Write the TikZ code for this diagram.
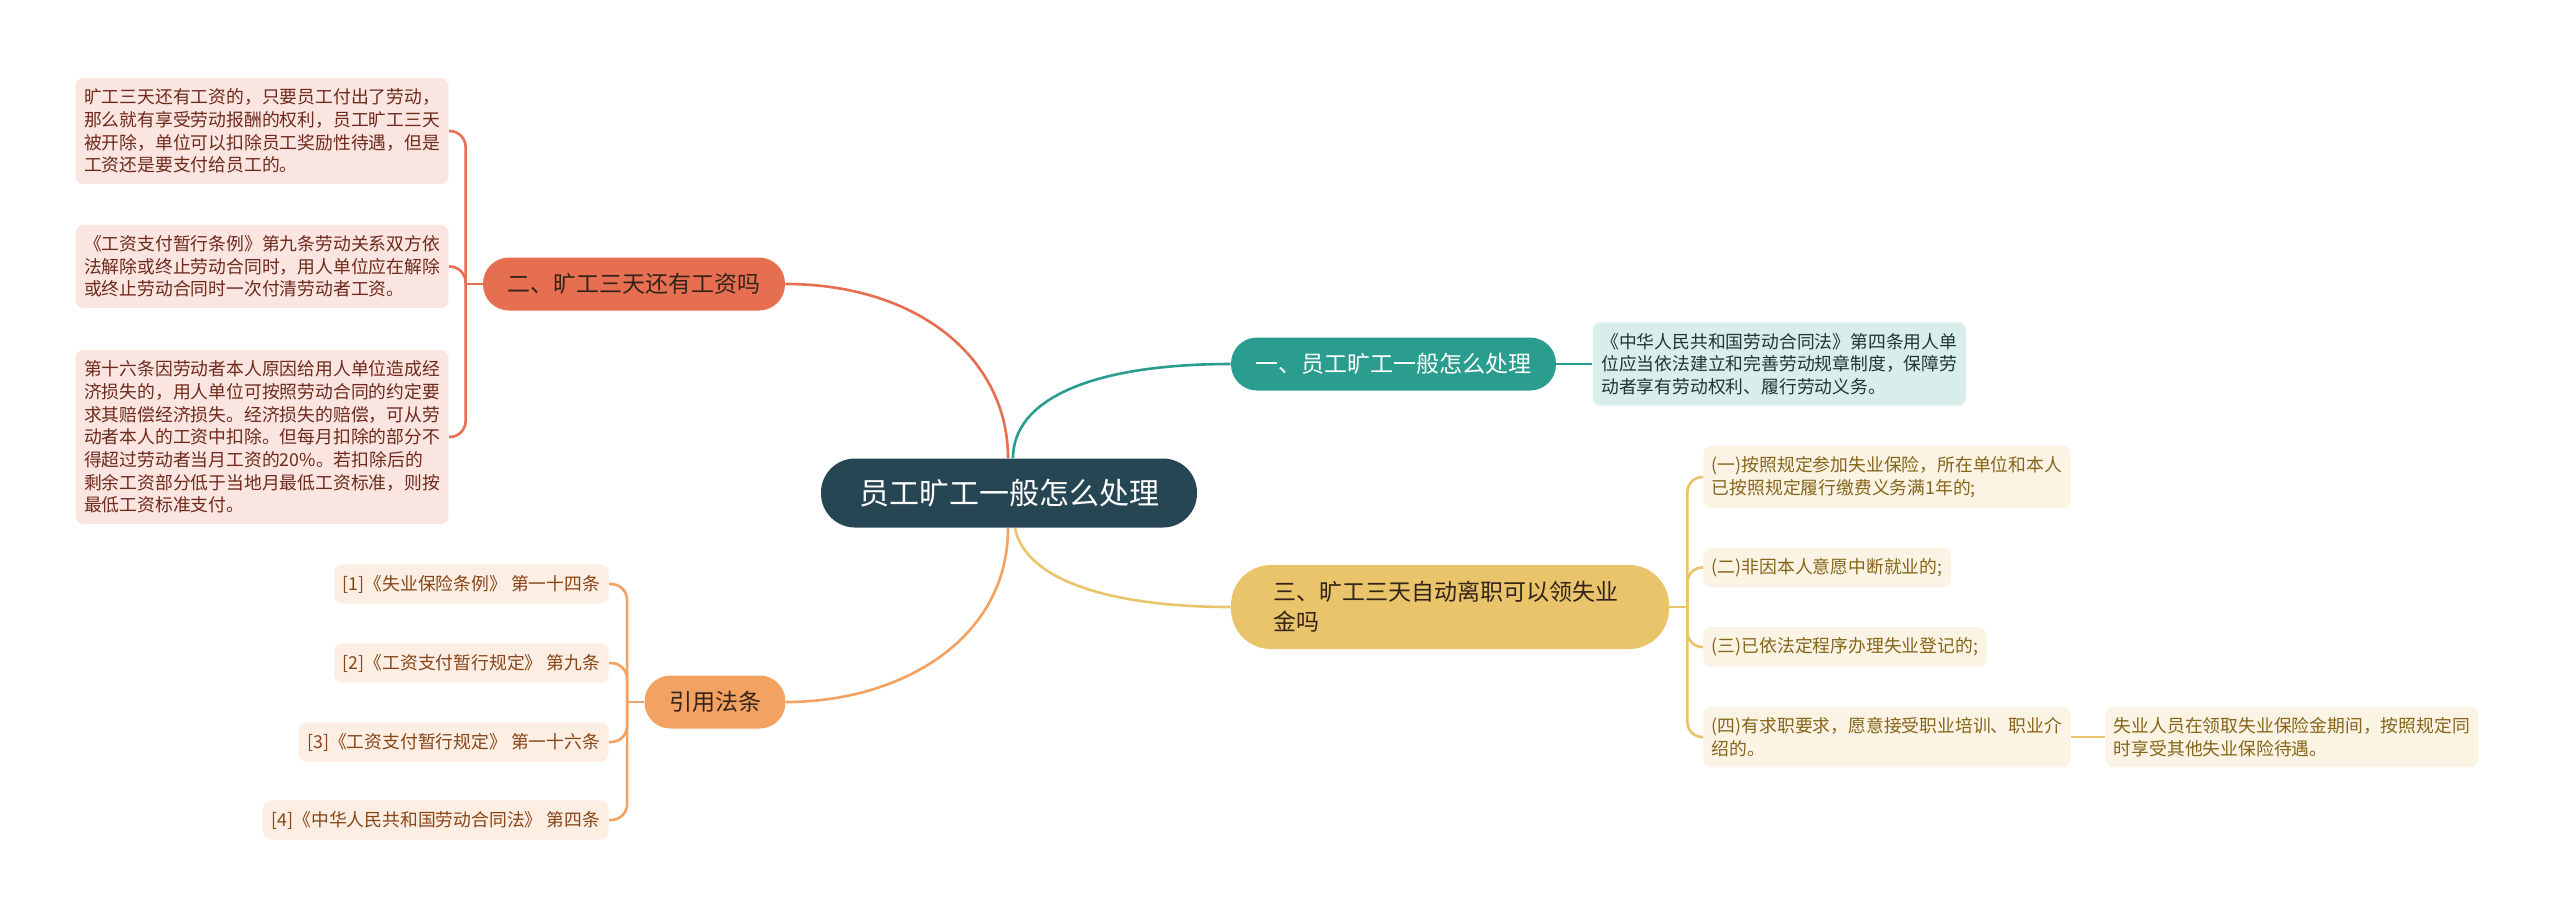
\documentclass[tikz,border=0pt]{standalone}
\usepackage{fontspec}
\setmainfont{Noto Sans CJK SC}
\usetikzlibrary{positioning, calc}
\definecolor{mapRoot}{HTML}{264653}
\definecolor{mapTeal}{HTML}{2A9D8F}
\definecolor{mapRed}{HTML}{E76F51}
\definecolor{mapGold}{HTML}{E9C46A}
\definecolor{mapOrange}{HTML}{F4A261}
\definecolor{textDark}{HTML}{33231A}
\definecolor{textRed}{HTML}{6E2A1C}
\definecolor{textTeal}{HTML}{233532}
\definecolor{textGold}{HTML}{86651A}
\definecolor{textOrange}{HTML}{874518}

\begin{document}
\begin{tikzpicture}[x=0.5pt, y=-0.5pt,
    root/.style={rectangle, rounded corners=17pt, fill=mapRoot, text=white,
                 font=\fontsize{15pt}{18pt}\selectfont, minimum height=34.5pt,
                 inner xsep=19pt},
    branch/.style 2 args={rectangle, rounded corners=13pt, fill=#1, text=#2,
                 font=\fontsize{11.5pt}{15pt}\selectfont, minimum height=26.5pt,
                 inner xsep=12.25pt},
    leaf/.style 2 args={rectangle, rounded corners=4pt, fill=#1!18, text=#2,
                 font=\fontsize{8.9pt}{11.35pt}\selectfont, align=left,
                 inner xsep=4.25pt, inner ysep=5.3pt, minimum height=19.5pt},
    lnk/.style={line width=1.3pt, draw=#1}
  ]
    \fill[white] (0,0) rectangle (2560,918);
    \useasboundingbox (0,0) rectangle (2560,918);

    % main topic and branches
    \node[root] (root) at (1009,493) {员工旷工一般怎么处理};
    \node[branch={mapTeal}{white}] (b1) at (1393.5,364) {一、员工旷工一般怎么处理};
    \node[branch={mapRed}{textDark}] (b2) at (634,284) {二、旷工三天还有工资吗};
    \node[branch={mapGold}{textDark}, text width=177pt, inner xsep=21pt,
          minimum height=42pt, rounded corners=20pt, align=left] (b3) at (1450,607)
          {三、旷工三天自动离职可以领失业\\金吗};
    \node[branch={mapOrange}{textDark}] (b4) at (715,702) {引用法条};

    % branch 1
    \node[leaf={mapTeal}{textTeal}, right=18pt of b1] (l1) {《中华人民共和国劳动合同法》第四条用人单\\位应当依法建立和完善劳动规章制度，保障劳\\动者享有劳动权利、履行劳动义务。};

    % branch 2
    \node[leaf={mapRed}{textRed}, anchor=east] (l21) at (449,131) {旷工三天还有工资的，只要员工付出了劳动，\\那么就有享受劳动报酬的权利，员工旷工三天\\被开除，单位可以扣除员工奖励性待遇，但是\\工资还是要支付给员工的。};
    \node[leaf={mapRed}{textRed}, anchor=east] (l22) at (449,266.5) {《工资支付暂行条例》第九条劳动关系双方依\\法解除或终止劳动合同时，用人单位应在解除\\或终止劳动合同时一次付清劳动者工资。};
    \node[leaf={mapRed}{textRed}, anchor=east] (l23) at (449,437) {第十六条因劳动者本人原因给用人单位造成经\\济损失的，用人单位可按照劳动合同的约定要\\求其赔偿经济损失。经济损失的赔偿，可从劳\\动者本人的工资中扣除。但每月扣除的部分不\\得超过劳动者当月工资的20\%。若扣除后的\\剩余工资部分低于当地月最低工资标准，则按\\最低工资标准支付。};

    % branch 3
    \node[leaf={mapGold}{textGold}, anchor=west] (l31) at (1703,477) {(一)按照规定参加失业保险，所在单位和本人\\已按照规定履行缴费义务满1年的;};
    \node[leaf={mapGold}{textGold}, anchor=west] (l32) at (1703,567.5) {(二)非因本人意愿中断就业的;};
    \node[leaf={mapGold}{textGold}, anchor=west] (l33) at (1703,647) {(三)已依法定程序办理失业登记的;};
    \node[leaf={mapGold}{textGold}, anchor=west] (l34) at (1703,737) {(四)有求职要求，愿意接受职业培训、职业介\\绍的。};
    \node[leaf={mapGold}{textGold}, right=17pt of l34] (l341) {失业人员在领取失业保险金期间，按照规定同\\时享受其他失业保险待遇。};

    % citations
    \node[leaf={mapOrange}{textOrange}, anchor=east] (c1) at (609,584) {[1]《失业保险条例》 第一十四条};
    \node[leaf={mapOrange}{textOrange}, anchor=east] (c2) at (609,663) {[2]《工资支付暂行规定》 第九条};
    \node[leaf={mapOrange}{textOrange}, anchor=east] (c3) at (609,742) {[3]《工资支付暂行规定》 第一十六条};
    \node[leaf={mapOrange}{textOrange}, anchor=east] (c4) at (609,820) {[4]《中华人民共和国劳动合同法》 第四条};

    % links from the main topic
    \draw[lnk=mapRed] (b2.east) .. controls (920,284) and (1008,360) .. ([xshift=-0.5pt]root.north);
    \draw[lnk=mapTeal] ([xshift=2pt]root.north) .. controls (1013,400) and (1090,364) .. (b1.west);
    \draw[lnk=mapOrange] ([xshift=-0.5pt]root.south) .. controls (1008,640) and (900,702) .. (b4.east);
    \draw[lnk=mapGold] ([xshift=3pt]root.south) .. controls (1025,580) and (1110,607) .. (b3.west);

    % links to the leaves
    \draw[lnk=mapTeal] (b1.east) -- (l1.west);
    \draw[lnk=mapGold] (l34.east) -- (l341.west);

    \draw[lnk=mapRed] (b2.west) -- ++(-17,0) coordinate (j2);
    \foreach \n in {l21,l22,l23}
      \draw[lnk=mapRed, rounded corners=8pt] (j2) |- (\n.east);

    \draw[lnk=mapGold] (b3.east) -- ++(18,0) coordinate (j3);
    \foreach \n in {l31,l32,l33,l34}
      \draw[lnk=mapGold, rounded corners=7.5pt] (j3) |- (\n.west);

    \draw[lnk=mapOrange] (b4.west) -- ++(-17,0) coordinate (j4);
    \foreach \n in {c1,c2,c3,c4}
      \draw[lnk=mapOrange, rounded corners=8pt] (j4) |- (\n.east);
  \end{tikzpicture}
\end{document}
